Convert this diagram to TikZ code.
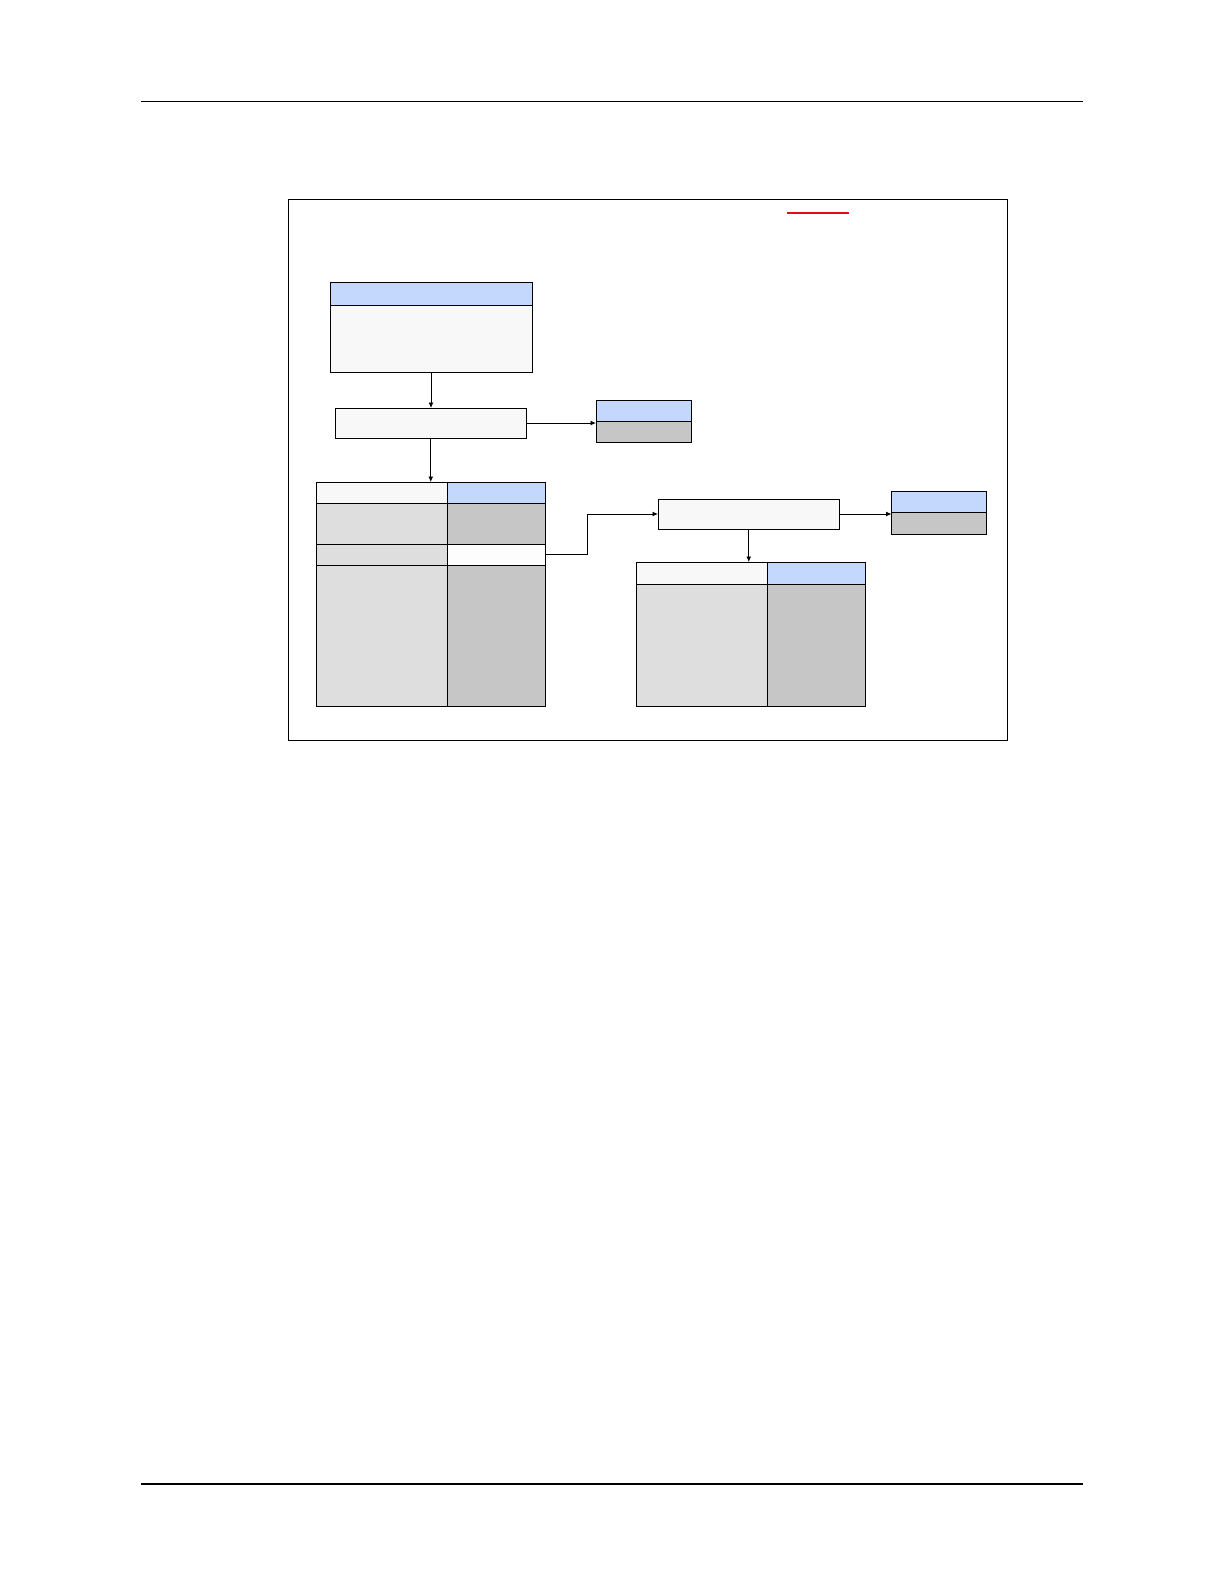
\documentclass[tikz,border=0pt]{standalone}
\usetikzlibrary{arrows.meta}
\definecolor{hdrblue}{RGB}{196,216,254}
\definecolor{offwhite}{RGB}{248,248,248}
\definecolor{lightgr}{RGB}{222,222,222}
\definecolor{darkgr}{RGB}{198,198,198}
\definecolor{pureish}{RGB}{253,253,253}
\definecolor{redline}{RGB}{222,16,16}
\tikzset{
  cell/.style={draw=black, line width=0.9pt, inner sep=0pt, outer sep=0pt, anchor=north west},
  arr/.style={draw=black, line width=0.9pt, -{Latex[length=5.5pt,width=5pt]}},
  rule/.style={draw=black, line width=1.4pt}
}
\begin{document}
\begin{tikzpicture}[x=1pt,y=-1pt]
\useasboundingbox[fill=white] (0,0) rectangle (1224,1584);
% page rules
\coordinate (tl) at (141,101.3); \coordinate (tr) at (1083,101.3);
\coordinate (bl) at (141,1484); \coordinate (br) at (1083,1484);
\draw[rule] (tl) -- (tr);
\draw[rule] (bl) -- (br);
% outer frame
\node[cell, fill=white, minimum width=718.8pt, minimum height=541pt] (frame) at (288.5,199.3) {};
% red underline
\coordinate (r1) at (786.5,213); \coordinate (r2) at (848.5,213);
\draw[redline, line width=2.4pt] (r1) -- (r2);
% Box A
\node[cell, fill=offwhite, minimum width=202pt, minimum height=90pt] (A) at (330,282) {};
\node[cell, fill=hdrblue, minimum width=202pt, minimum height=23pt] (Ah) at (330,282) {};
% Box B
\node[cell, fill=offwhite, minimum width=191.5pt, minimum height=30pt] (B) at (335,408) {};
% Box C
\node[cell, fill=hdrblue, minimum width=95.5pt, minimum height=21pt] (Ch) at (596,400) {};
\node[cell, fill=darkgr, minimum width=95.5pt, minimum height=21.5pt] (Cb) at (596,421) {};
% Table T1
\node[cell, fill=offwhite, minimum width=131pt, minimum height=21pt] (t1ha) at (316,482) {};
\node[cell, fill=hdrblue, minimum width=98.5pt, minimum height=21pt] (t1hb) at (447,482) {};
\node[cell, fill=lightgr, minimum width=131pt, minimum height=41pt] (t1r2a) at (316,503) {};
\node[cell, fill=darkgr, minimum width=98.5pt, minimum height=41pt] (t1r2b) at (447,503) {};
\node[cell, fill=lightgr, minimum width=131pt, minimum height=21pt] (t1r3a) at (316,544) {};
\node[cell, fill=pureish, minimum width=98.5pt, minimum height=21pt] (t1r3b) at (447,544) {};
\node[cell, fill=lightgr, minimum width=131pt, minimum height=141pt] (t1r4a) at (316,565) {};
\node[cell, fill=darkgr, minimum width=98.5pt, minimum height=141pt] (t1r4b) at (447,565) {};
% Box D
\node[cell, fill=offwhite, minimum width=181.5pt, minimum height=30pt] (D) at (658,499) {};
% Box E
\node[cell, fill=hdrblue, minimum width=95pt, minimum height=21pt] (Eh) at (891.5,491) {};
\node[cell, fill=darkgr, minimum width=95pt, minimum height=22pt] (Eb) at (891.5,512) {};
% Table T2
\node[cell, fill=offwhite, minimum width=130.5pt, minimum height=22pt] (t2ha) at (636.5,562) {};
\node[cell, fill=hdrblue, minimum width=98.5pt, minimum height=22pt] (t2hb) at (767,562) {};
\node[cell, fill=lightgr, minimum width=130.5pt, minimum height=122.5pt] (t2ba) at (636.5,584) {};
\node[cell, fill=darkgr, minimum width=98.5pt, minimum height=122.5pt] (t2bb) at (767,584) {};
% connectors
\draw[arr] (A.south) -- (A.south |- B.north);
\draw[arr] (B.east) -- (B.east -| Cb.west);
\draw[arr] (B.south) -- (B.south |- t1ha.north);
\coordinate (bend) at (587.3,554.5);
\draw[arr] (t1r3b.east) -- (bend) |- (D.west);
\draw[arr] (D.east) -- (D.east -| Eb.west);
\draw[arr] (D.south) -- (D.south |- t2ha.north);
\end{tikzpicture}
\end{document}
